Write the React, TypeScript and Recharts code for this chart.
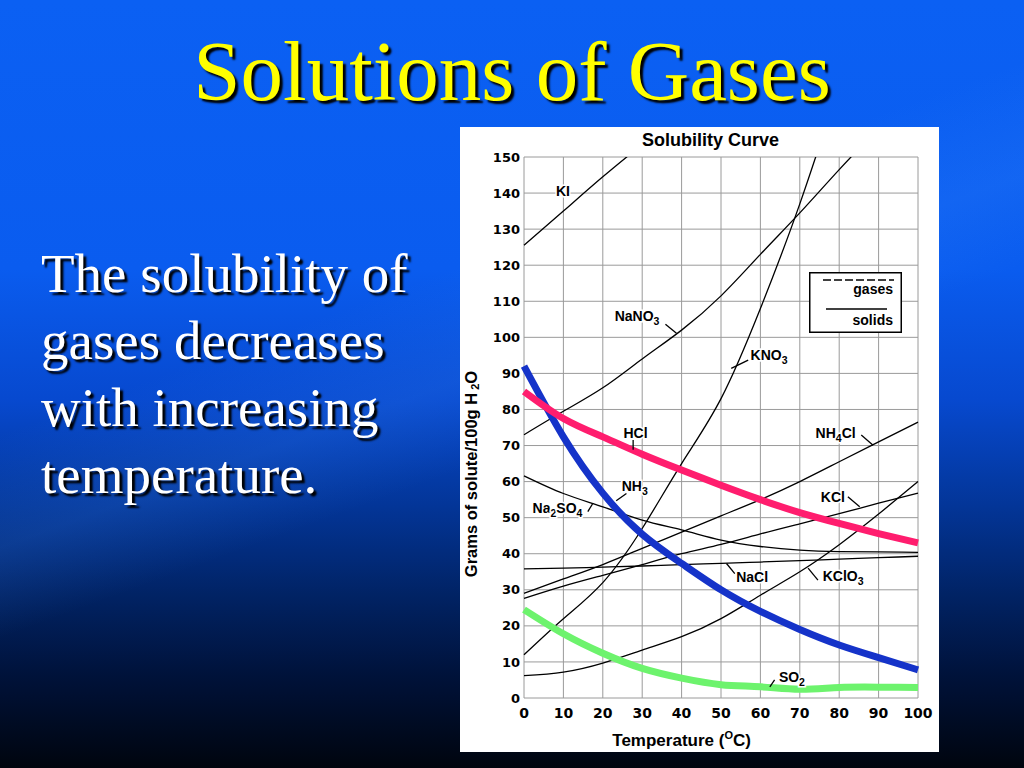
import React from 'react';
import { LineChart, Line, XAxis, YAxis, CartesianGrid, ReferenceDot, ReferenceLine, Legend } from 'recharts';

// temperatures (°C) and axis ticks
const temps = [0, 10, 20, 30, 40, 50, 60, 70, 80, 90, 100];
const yTicks = [0, 10, 20, 30, 40, 50, 60, 70, 80, 90, 100, 110, 120, 130, 140, 150];

// solids (grams solute / 100 g water)
const ki = [125.5, 135, 144.5, 153.5, null, null, null, null, null, null, null];
const nano3 = [73, 79.5, 86, 94, 102, 111.5, 123, 134.5, 146.5, 158, null];
const kno3 = [12, 22, 32, 47, 65, 83, 108, 137, 170, null, null];
const nh4cl = [29, 33, 37, 41.5, 46, 50.5, 55, 60, 65.5, 71, 76.5];
const kcl = [27.6, 31, 34, 37, 40, 42.6, 45.5, 48.3, 51.1, 54, 56.8];
const nacl = [35.8, 36, 36.3, 36.6, 37, 37.3, 37.7, 38.1, 38.5, 38.9, 39.3];
const kclo3 = [6.2, 7.2, 9.7, 13.3, 17, 22, 28.5, 35, 42.5, 51, 60];
const na2so4 = [61.6, 56.7, 53, 49.3, 46.6, 43.8, 42, 41, 40.6, 40.5, 40.4];

// gases (highlighted)
const hcl = [85, 77.5, 72.4, 67.6, 63.2, 59, 55, 51.4, 48.4, 45.6, 43];
const nh3 = [92, 72.4, 56.8, 45.4, 37.3, 30, 24, 19, 14.7, 11.2, 7.8];
const so2 = [24.5, 17.8, 12.4, 8.2, 5.5, 3.7, 3.1, 2.4, 2.9, 3, 2.9];

const solids = [
  { key: 'KI', values: ki },
  { key: 'NaNO3', values: nano3 },
  { key: 'KNO3', values: kno3 },
  { key: 'NH4Cl', values: nh4cl },
  { key: 'KCl', values: kcl },
  { key: 'NaCl', values: nacl },
  { key: 'KClO3', values: kclo3 },
  { key: 'Na2SO4', values: na2so4 },
];

const gases = [
  { key: 'NH3', values: nh3, color: '#1533c9' },
  { key: 'HCl', values: hcl, color: '#ff1d6e' },
  { key: 'SO2', values: so2, color: '#6df36d' },
];

const rows = temps.map((t, i) => {
  const row: Record<string, number | null> = { t };
  solids.forEach((s) => (row[s.key] = s.values[i]));
  gases.forEach((g) => (row[g.key] = g.values[i]));
  return row;
});

// curve names, placed in data coordinates; "_n" marks a subscript
const curveLabels = [
  { parts: ['KI'], t: 9.9, s: 140.6 },
  { parts: ['NaNO', '_3'], t: 28.7, s: 105.8 },
  { parts: ['KNO', '_3'], t: 62.2, s: 95 },
  { parts: ['HCl'], t: 28.3, s: 73.6 },
  { parts: ['NH', '_4', 'Cl'], t: 79.1, s: 73.6 },
  { parts: ['NH', '_3'], t: 28.1, s: 58.8 },
  { parts: ['Na', '_2', 'SO', '_4'], t: 8.5, s: 52.8 },
  { parts: ['KCl'], t: 78.4, s: 55.6 },
  { parts: ['NaCl'], t: 57.9, s: 33.6 },
  { parts: ['KClO', '_3'], t: 81, s: 33.7 },
  { parts: ['SO', '_2'], t: 68, s: 5.7 },
];

// little leader strokes from a name to its curve
const pointers = [
  [35.9, 103.6, 38.7, 101.1],
  [56.9, 93.7, 52.6, 91.4],
  [27.7, 71.5, 27.7, 68.8],
  [85.6, 72.9, 88.6, 70.1],
  [26, 56.7, 23.4, 54.7],
  [16.2, 51.7, 17.5, 54],
  [82.2, 55.8, 85.2, 53],
  [51.4, 37.3, 53.5, 34.5],
  [72.1, 36, 74.6, 32.7],
  [63.6, 5, 62.4, 3.1],
];

const sans = '"Liberation Sans", Arial, sans-serif';

function richText(parts: string[], size: number) {
  let low = false;
  return parts.map((p, i) => {
    if (p.startsWith('_')) {
      const el = (
        <tspan key={i} dy={low ? 0 : 4} fontSize={size * 0.75}>
          {p.slice(1)}
        </tspan>
      );
      low = true;
      return el;
    }
    const el = (
      <tspan key={i} dy={low ? -4 : 0}>
        {p}
      </tspan>
    );
    low = false;
    return el;
  });
}

const makeCurveLabel = (parts: string[]) => (props: any) => {
  const vb = props.viewBox || props;
  return (
    <text
      x={vb.x}
      y={vb.y + 5}
      textAnchor="middle"
      fontFamily={sans}
      fontWeight="bold"
      fontSize={14}
      fill="#000"
      stroke="#fff"
      strokeWidth={3}
      paintOrder="stroke"
    >
      {richText(parts, 14)}
    </text>
  );
};

const XLabel = (props: any) => {
  const vb = props.viewBox || props;
  const x = vb.x + vb.width * 0.4;
  const y = vb.y + 48;
  return (
    <text x={x} y={y} textAnchor="middle" fontFamily={sans} fontWeight="bold" fontSize={17} fill="#000">
      Temperature (
      <tspan fontSize={11} dy={-7}>
        O
      </tspan>
      <tspan dy={7}>C)</tspan>
    </text>
  );
};

const YLabel = (props: any) => {
  const vb = props.viewBox || props;
  const cx = vb.x + 11;
  const cy = vb.y + vb.height * 0.586;
  return (
    <text
      x={cx}
      y={cy}
      transform={`rotate(-90 ${cx} ${cy})`}
      textAnchor="middle"
      dominantBaseline="central"
      fontFamily={sans}
      fontWeight="bold"
      fontSize={16.5}
      fill="#000"
    >
      Grams of solute/100g H
      <tspan dx={3} dy={4} fontSize={11}>
        2
      </tspan>
      <tspan dy={-4}>O</tspan>
    </text>
  );
};

const LegendBox = () => (
  <svg width={93} height={61} style={{ display: 'block' }}>
    <rect x={0.75} y={0.75} width={91.5} height={59.5} fill="#fff" stroke="#000" strokeWidth={1.5} />
    <line x1={14} y1={8} x2={85} y2={8} stroke="#000" strokeWidth={1.3} strokeDasharray="8 3" />
    <text x={84} y={22} textAnchor="end" fontFamily={sans} fontWeight="bold" fontSize={14}>
      gases
    </text>
    <line x1={17} y1={37} x2={78} y2={37} stroke="#000" strokeWidth={1.3} />
    <text x={84} y={53} textAnchor="end" fontFamily={sans} fontWeight="bold" fontSize={14}>
      solids
    </text>
  </svg>
);

const tickStyle = { fill: '#000', fontFamily: '"DejaVu Sans", sans-serif', fontWeight: 'bold' as const };

function SolubilityChart() {
  return (
    <div style={{ position: 'absolute', left: 460, top: 127, width: 479, height: 625, background: '#fff' }}>
      <div
        style={{
          position: 'absolute',
          left: 0,
          top: 2,
          width: 501,
          textAlign: 'center',
          fontFamily: sans,
          fontWeight: 'bold',
          fontSize: 18,
          color: '#000',
          lineHeight: '22px',
        }}
      >
        Solubility Curve
      </div>
      <LineChart width={479} height={625} data={rows} margin={{ top: 30, right: 21, left: 0, bottom: 0 }}>
        <CartesianGrid stroke="#9a9a9a" strokeWidth={1} />
        <XAxis
          dataKey="t"
          type="number"
          domain={[0, 100]}
          ticks={temps}
          interval={0}
          height={54}
          tickSize={0}
          tickMargin={10}
          axisLine={false}
          tickLine={false}
          tick={{ ...tickStyle, fontSize: 14 }}
          label={{ content: XLabel }}
        />
        <YAxis
          type="number"
          domain={[0, 150]}
          ticks={yTicks}
          interval={0}
          allowDataOverflow
          width={64}
          tickSize={0}
          tickMargin={4}
          axisLine={false}
          tickLine={false}
          tick={{ ...tickStyle, fontSize: 13 }}
          label={{ content: YLabel }}
        />
        {solids.map((s) => (
          <Line
            key={s.key}
            dataKey={s.key}
            type="natural"
            stroke="#000"
            strokeWidth={1.3}
            dot={false}
            activeDot={false}
            isAnimationActive={false}
          />
        ))}
        {gases.map((g) => (
          <Line
            key={g.key}
            dataKey={g.key}
            type="natural"
            stroke={g.color}
            strokeWidth={7}
            dot={false}
            activeDot={false}
            isAnimationActive={false}
          />
        ))}
        {pointers.map((p, i) => (
          <ReferenceLine
            key={'p' + i}
            segment={[
              { x: p[0], y: p[1] },
              { x: p[2], y: p[3] },
            ]}
            stroke="#000"
            strokeWidth={1.3}
          />
        ))}
        {curveLabels.map((l, i) => (
          <ReferenceDot
            key={'l' + i}
            x={l.t}
            y={l.s}
            r={0}
            fill="none"
            stroke="none"
            label={makeCurveLabel(l.parts)}
          />
        ))}
        <Legend
          layout="horizontal"
          verticalAlign="middle"
          align="center"
          wrapperStyle={{ left: 349, top: 145, width: 93, height: 61 }}
          content={() => <LegendBox />}
        />
      </LineChart>
    </div>
  );
}

export default function App() {
  return (
    <div
      style={{
        position: 'absolute',
        left: 0,
        top: 0,
        width: 1024,
        height: 768,
        overflow: 'hidden',
        background:
          'linear-gradient(180deg, #0b60f3 0%, #0a5cef 35%, #0749cf 52%, #033597 66%, #012262 78%, #00123a 88%, #00050e 100%)',
      }}
    >
      <div
        style={{
          position: 'absolute',
          inset: 0,
          background:
            'linear-gradient(160deg, rgba(70,150,255,0) 38%, rgba(70,150,255,0.14) 48%, rgba(70,150,255,0) 56%)',
        }}
      />
      <div
        style={{
          position: 'absolute',
          left: 0,
          top: 29,
          width: 1024,
          textAlign: 'center',
          fontFamily: '"Liberation Serif", "Times New Roman", serif',
          fontSize: 85,
          lineHeight: '85px',
          color: '#ffff00',
          textShadow: '3px 3px 2px #000',
          whiteSpace: 'nowrap',
        }}
      >
        Solutions of Gases
      </div>
      <div
        style={{
          position: 'absolute',
          left: 41,
          top: 240,
          width: 420,
          fontFamily: '"Liberation Serif", "Times New Roman", serif',
          fontSize: 55,
          lineHeight: '67px',
          color: '#fff',
          textShadow: '3px 3px 2px #000',
        }}
      >
        The solubility of
        <br />
        gases decreases
        <br />
        with increasing
        <br />
        temperature.
      </div>
      <SolubilityChart />
    </div>
  );
}
